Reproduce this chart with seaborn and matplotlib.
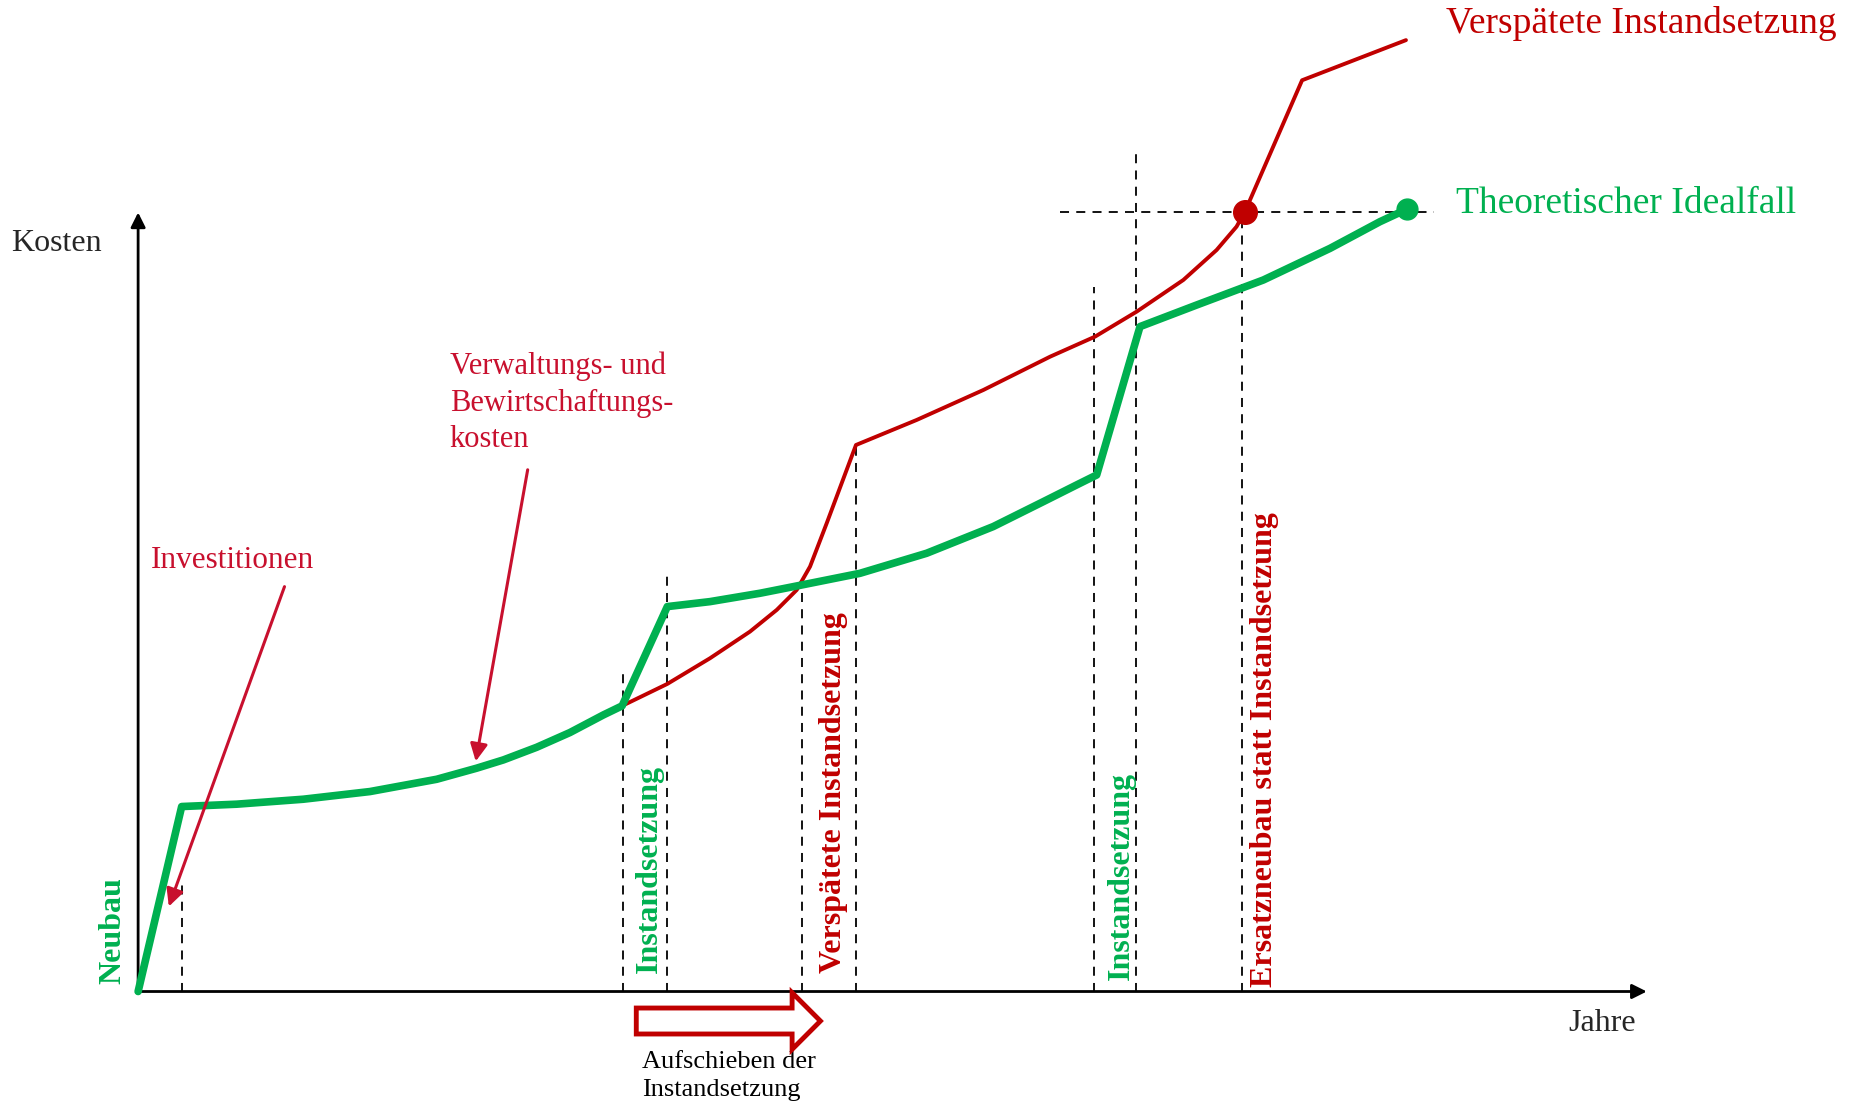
import matplotlib
matplotlib.use("Agg")
import matplotlib.pyplot as plt
import matplotlib.patches as mpatches
import seaborn as sns
import pandas as pd

# cost curves (x: Jahre, y: Kosten, arbitrary units)
ideal_x = [0, 3.69, 8.35, 13.99, 19.64, 25.29, 28.68, 30.94, 33.76, 36.58, 39.41, 41.0,
           44.83, 48.44, 52.68, 56.21, 61.15, 66.8, 72.44, 76.68, 79.51, 81.2,
           84.87, 89.67, 95.32, 100.97, 105.2, 107.46]
ideal_y = [0, 15.67, 15.87, 16.29, 16.94, 17.98, 18.92, 19.62, 20.69, 21.94, 23.43, 24.2,
           32.61, 33.03, 33.74, 34.44, 35.43, 37.13, 39.39, 41.5, 42.92, 43.76,
           56.33, 58.16, 60.28, 62.96, 65.22, 66.27]

late_x = [41.0, 44.83, 48.44, 51.83, 54.1, 55.79, 56.92, 58.33, 60.81, 65.95, 71.6, 77.25,
          81.06, 84.59, 88.54, 91.36, 93.05, 93.76, 98.6, 107.4]
late_y = [24.2, 26.06, 28.23, 30.49, 32.33, 34.02, 36.0, 39.67, 46.3, 48.42, 50.96, 53.78,
          55.48, 57.6, 60.28, 62.82, 64.8, 66.07, 77.2, 80.6]

# event markers: x position and top of the dashed guide line
event_x = [3.7, 41.1, 44.8, 56.2, 60.8, 81.0, 84.5, 93.5]
event_top = [9.5, 27.5, 35.5, 34.6, 46.2, 59.7, 71.2, 66.0]

break_even_y = 66.0

GREEN = "#00b050"
RED = "#c00000"
CRIMSON = "#c8102e"

sns.set_style("white")
plt.rcParams["font.family"] = ["Liberation Serif", "DejaVu Serif"]

fig = plt.figure(figsize=(18.51, 11.06), dpi=100)
ax = fig.add_axes([0, 0, 1, 1])

# dashed guides
for x, top in zip(event_x, event_top):
    ax.plot([x, x], [0, top], color="black", lw=1.3, ls=(0, (5, 4)), zorder=1)
ax.plot([78.1, 109.8], [break_even_y, break_even_y], color="black", lw=1.3,
        ls=(0, (5, 4)), zorder=1)

# curves
late = pd.DataFrame({"Jahre": late_x, "Kosten": late_y})
ideal = pd.DataFrame({"Jahre": ideal_x, "Kosten": ideal_y})
sns.lineplot(data=late, x="Jahre", y="Kosten", sort=False, estimator=None,
             color=RED, lw=2.8, ax=ax, zorder=3)
sns.lineplot(data=ideal, x="Jahre", y="Kosten", sort=False, estimator=None,
             color=GREEN, lw=5.5, ax=ax, zorder=4)
ax.plot(late_x[17], late_y[17], "o", color=RED, ms=17, zorder=5)
ax.plot(ideal_x[-1], ideal_y[-1], "o", color=GREEN, ms=15, zorder=5)
ax.set_xlim(-11.7, 145.1)
ax.set_ylim(-9.7, 84.0)
ax.axis("off")

# axes arrows
ax.annotate("", xy=(127.8, 0), xytext=(0, 0),
            arrowprops=dict(arrowstyle="-|>", lw=2, color="black",
                            mutation_scale=22, shrinkA=0, shrinkB=0), zorder=2)
ax.annotate("", xy=(0, 66.0), xytext=(0, 0),
            arrowprops=dict(arrowstyle="-|>", lw=2, color="black",
                            mutation_scale=22, shrinkA=0, shrinkB=0), zorder=2)
ax.text(-6.9, 63.4, "Kosten", fontsize=23, ha="center", va="center")
ax.text(124.0, -2.7, "Jahre", fontsize=23, ha="center", va="center")

# vertical event labels
ax.text(-2.1, 5.2, "Neubau", color=GREEN, fontsize=23, fontweight="bold",
        rotation=90, ha="center", va="center")
ax.text(43.3, 1.6, "Instandsetzung", color=GREEN, fontsize=23, fontweight="bold",
        rotation=90, ha="center", va="bottom")
ax.text(58.9, 1.6, "Verspätete Instandsetzung", color=RED, fontsize=23,
        fontweight="bold", rotation=90, ha="center", va="bottom")
ax.text(83.3, 1.0, "Instandsetzung", color=GREEN, fontsize=23, fontweight="bold",
        rotation=90, ha="center", va="bottom")
ax.text(95.4, 0.4, "Ersatzneubau statt Instandsetzung", color=RED, fontsize=23,
        fontweight="bold", rotation=90, ha="center", va="bottom")

# annotations
ax.annotate("", xy=(2.6, 7.2), xytext=(12.4, 34.3),
            arrowprops=dict(arrowstyle="-|>", lw=2.2, color=CRIMSON,
                            mutation_scale=26, shrinkA=0, shrinkB=0), zorder=6)
ax.text(1.1, 36.5, "Investitionen", color=CRIMSON, fontsize=22.5, ha="left", va="center")

ax.annotate("", xy=(28.6, 19.5), xytext=(33.0, 44.2),
            arrowprops=dict(arrowstyle="-|>", lw=2.2, color=CRIMSON,
                            mutation_scale=26, shrinkA=0, shrinkB=0), zorder=6)
ax.text(26.4, 54.2, "Verwaltungs- und\nBewirtschaftungs-\nkosten", color=CRIMSON,
        fontsize=22, ha="left", va="top", linespacing=1.33)

ax.text(110.8, 82.0, "Verspätete Instandsetzung", color=RED, fontsize=27,
        ha="left", va="center")
ax.text(111.6, 66.7, "Theoretischer Idealfall", color=GREEN, fontsize=27,
        ha="left", va="center")

# hollow "postponement" arrow
ax.add_patch(mpatches.FancyArrow(42.2, -2.5, 15.6, 0, width=2.2, head_width=4.8,
                                 head_length=2.4, length_includes_head=True,
                                 fc="white", ec=RED, lw=3.5, zorder=6))
ax.text(42.7, -5.0, "Aufschieben der\nInstandsetzung", color="black", fontsize=19,
        ha="left", va="top", linespacing=1.4)

fig.savefig("out.png", dpi=100)
